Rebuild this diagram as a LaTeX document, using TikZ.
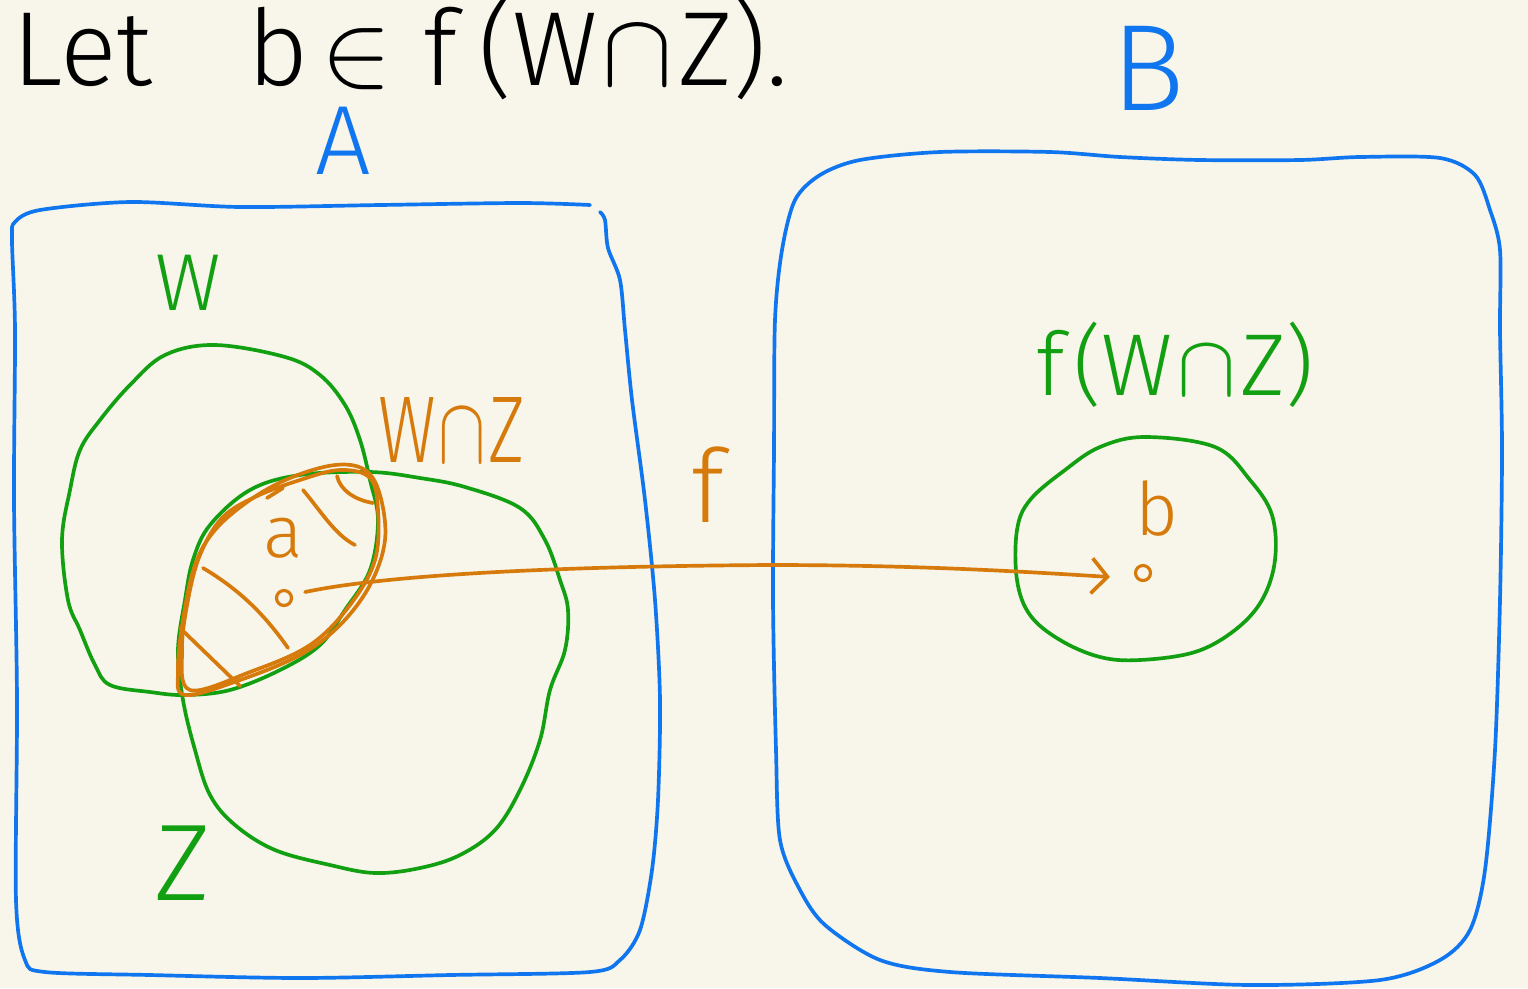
\RequirePackage{fix-cm}
\documentclass[tikz,border=0pt]{standalone}
\usepackage{fontspec}
\setmainfont{Fira Sans Light}
\usetikzlibrary{arrows.meta}
\definecolor{bg}{HTML}{F8F6EA}
\definecolor{penblue}{HTML}{0F76F0}
\definecolor{pengreen}{HTML}{12A012}
\definecolor{penorange}{HTML}{D67A0C}
\newcommand{\incap}{\ensuremath{\cap}}
\newcommand{\inin}{\ensuremath{\in}}
\begin{document}
\begin{tikzpicture}[x=0.02cm,y=-0.02cm,line cap=round,line join=round,
  pen/.style={line width=2.1pt},
  bluepen/.style={pen,draw=penblue},
  greenpen/.style={pen,draw=pengreen},
  orangepen/.style={pen,draw=penorange},
  lbl/.style={inner sep=0pt,anchor=center},
  dotmark/.style={draw=penorange,line width=1.8pt,circle,inner sep=0pt,minimum size=0.3cm},
  farrow/.style={orangepen,-{Straight Barb[length=9pt,width=20pt,line width=2.1pt]}}]
\useasboundingbox (0,0) rectangle (1528,988);
\fill[bg] (0,0) rectangle (1528,988);

% title
\node[inner sep=0pt,anchor=base west] (title) at (12,85)
  {\fontsize{60}{70}\selectfont Let\hspace{0.9em}b\hspace{0.12em}\inin\hspace{0.3em}f\hspace{0.2em}(W\hspace{0.05em}\incap\hspace{0.05em}Z).};

% set labels
\node[lbl,text=penblue] (labA) at (343,141) {\fontsize{56}{60}\selectfont A};
\node[lbl,text=penblue] (labB) at (1148,68) {\fontsize{70}{72}\selectfont B};

% box A
\draw[bluepen] plot[smooth,tension=0.5] coordinates {(590,205) (520,203) (380,205) (240,207) (130,202) (40,210) (15,222) (12,240) (15,330) (14,500) (17,700) (16,900) (25,960) (45,972) (150,975) (300,978) (450,975) (590,972) (620,960) (640,930) (652,870) (658,800) (660,700) (655,600) (645,500) (632,400) (625,330) (620,280) (608,248) (605,220) (600,212)};

% box B
\draw[bluepen] plot[smooth cycle,tension=0.5] coordinates {(1440,158) (1360,157) (1300,160) (1200,160) (1120,157) (1050,152) (940,152) (860,160) (820,175) (795,200) (782,250) (775,320) (774,450) (773,600) (776,750) (780,840) (800,890) (825,925) (880,960) (950,972) (1100,978) (1250,985) (1380,980) (1440,960) (1470,930) (1485,870) (1495,750) (1500,600) (1502,450) (1500,330) (1500,250) (1490,210) (1475,175)};

% W
\draw[greenpen] plot[smooth cycle,tension=0.6] coordinates {(165,355) (215,345) (285,357) (320,375) (345,405) (360,440) (370,480) (378,520) (370,570) (345,610) (320,645) (280,670) (230,690) (185,695) (150,692) (110,685) (95,665) (80,630) (68,600) (62,540) (70,490) (80,450) (100,420) (130,385)};
\node[lbl,text=pengreen] (labW) at (188,283) {\fontsize{46}{50}\selectfont W};

% Z
\draw[greenpen] plot[smooth cycle,tension=0.6] coordinates {(210,525) (250,490) (300,475) (370,472) (420,478) (465,487) (520,508) (545,540) (560,580) (568,610) (565,650) (550,690) (540,740) (520,790) (495,830) (460,855) (420,868) (375,873) (330,865) (275,850) (235,825) (210,795) (195,750) (183,700) (178,650) (185,600) (193,560)};
\node[lbl,text=pengreen] (labZ) at (183,863) {\fontsize{62}{64}\selectfont Z};

% W cap Z lens
\draw[orangepen] plot[smooth cycle,tension=0.6] coordinates {(185,695) (240,680) (300,655) (340,625) (370,585) (385,540) (380,495) (365,470) (335,465) (290,478) (250,500) (215,530) (195,565) (183,620) (178,670)};
\draw[orangepen] plot[smooth cycle,tension=0.6] coordinates {(190,690) (250,672) (310,645) (350,605) (375,560) (378,510) (370,478) (340,470) (300,480) (255,497) (222,518) (200,555) (188,600) (182,650)};
\draw[orangepen] (180,628) -- (240,686);
\draw[orangepen] (203,568) .. controls (240,590) and (265,615) .. (288,648);
\draw[orangepen] (303,490) .. controls (320,510) and (335,535) .. (355,545);
\draw[orangepen] (337,476) .. controls (340,490) and (355,500) .. (373,503);
\draw[orangepen] (267,498) -- (283,488);
\node[lbl,text=penorange] (labWZ) at (452,430) {\fontsize{54}{58}\selectfont\scalebox{0.75}[1]{W\hspace{0.03em}\incap\hspace{0.03em}Z}};

% points
\node[lbl,text=penorange] (laba) at (283,538) {\fontsize{42}{44}\selectfont a};
\node[dotmark] (adot) at (284,598) {};
\node[lbl,text=penorange] (labb) at (1157,508) {\fontsize{42}{44}\selectfont b};
\node[dotmark] (bdot) at (1143,573) {};

% f(W cap Z)
\draw[greenpen] plot[smooth cycle,tension=0.6] coordinates {(1145,437) (1215,447) (1250,480) (1272,515) (1275,560) (1262,600) (1235,630) (1195,652) (1140,660) (1100,657) (1060,640) (1030,615) (1017,580) (1017,530) (1030,500) (1065,470) (1100,447)};
\node[lbl,text=pengreen] (labfWZ) at (1175,365) {\fontsize{50}{54}\selectfont f\hspace{0.1em}(W\hspace{0.05em}\incap\hspace{0.05em}Z)};

% map f
\draw[farrow] ([shift={(12,-6)}]adot.east) .. controls (400,572) and (600,566) .. (770,565) .. controls (900,565) and (1000,570) .. ([shift={(-24,4)}]bdot.west);
\node[lbl,text=penorange] (labf) at (708,485) {\fontsize{58}{60}\selectfont f};
\end{tikzpicture}
\end{document}
